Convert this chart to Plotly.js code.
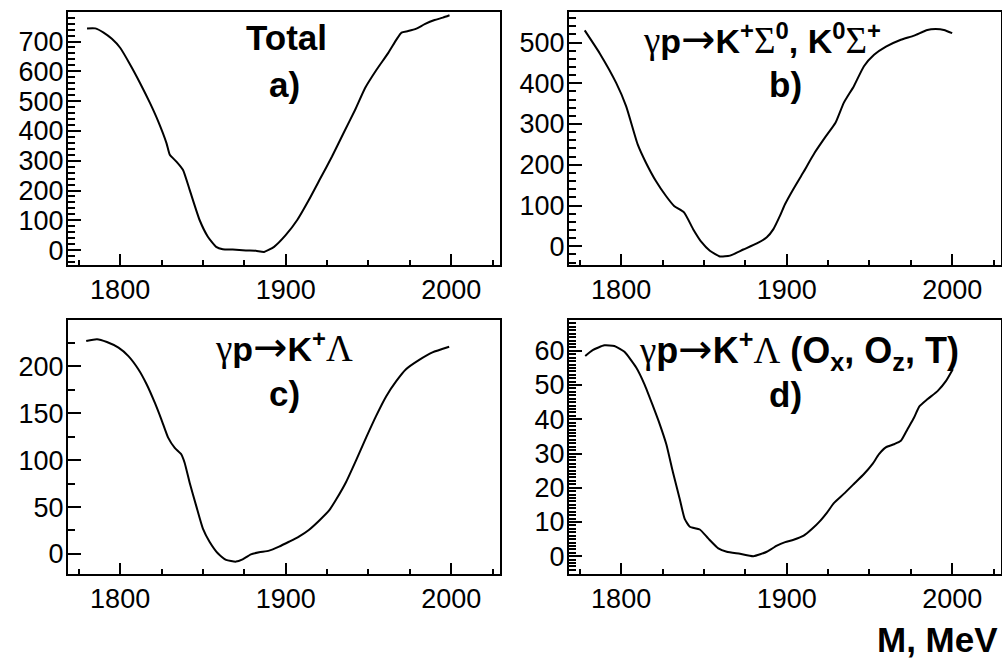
<!DOCTYPE html>
<html>
<head>
<meta charset="utf-8">
<script src="https://cdn.plot.ly/plotly-3.0.1.min.js"></script>
<style>
html,body{margin:0;padding:0;background:#fff;}
#chart{width:1002px;height:659px;}
</style>
</head>
<body>
<div id="chart"></div>
<script>
// ---- Data (M in MeV) ----
const massA = [1780,1785,1790,1795,1800,1806,1812,1818,1823,1828,1830,1834,1838,1842,1848,1853,1858,1862,1868,1876,1882,1887,1893,1900,1907,1914,1921,1928,1935,1942,1948,1955,1962,1967,1970,1974,1979,1984,1990,1995,1999];
const totalA = [744,744,730,709,679,623,561,494,432,359,320,297,269,202,101,45,11,3,2,-1,-2,-6,11,50,101,168,241,314,393,471,544,606,662,707,730,735,743,758,772,780,788];

const massB = [1778,1787,1797,1803,1810,1815,1821,1827,1832,1838,1843.5,1848.6,1853.6,1859.7,1865.8,1873.8,1882,1888,1892,1896,1899,1904,1910,1917,1923,1929.5,1934.5,1940.6,1946.7,1952.8,1960,1969,1977,1985,1990,1995,2000];
const sigmaB = [530,474,401,344,250,205,160,124,99,83,42,10,-11,-25,-23,-8,7,22,42,75,103,140,181,230,266,303,352,393,442,470,490,507,517,531,533,531,523];

const massC = [1779.5,1786,1792,1799,1805,1811,1816,1821,1825,1829,1833,1837,1839,1842,1846,1850,1854,1859,1864,1870,1874,1879,1884,1890,1896,1902,1908,1914,1920.5,1926.5,1930.5,1936.6,1942.6,1948.6,1954.6,1960.7,1966.7,1972.7,1980.7,1988.7,1998.8];
const lambdaC = [227,229,226,220,211,197,181,161,143,124,113,106,97,76,51,27,13,0.7,-6.4,-8.2,-5.7,-0.4,1.8,3.5,7.8,13,18.5,25.6,36,47,58,77,100,124,147,168,184,197,207,215,221];

const massD = [1778.3,1782.8,1789.9,1795.9,1802,1809.1,1814.1,1819.2,1823.3,1827.3,1831.3,1835.4,1838.4,1841.5,1847.5,1852.6,1858.7,1863.8,1871.8,1879.9,1888,1894.1,1899.1,1904.2,1910.3,1915.4,1920.4,1924.5,1928.5,1934.5,1940.6,1946.7,1951.8,1955.8,1959.9,1964.9,1969,1973,1977,1980.1,1985.2,1991.3,1996.3,2000.4];
const polD = [58.5,60.2,61.6,61.4,59.7,55.1,50.2,43.9,38.6,32.7,24.5,16.7,10.9,8.6,7.8,5.2,2.3,1.3,0.7,0,1.3,3.1,4.1,4.8,6.0,8.0,10.4,12.8,15.5,18.2,21.1,24.0,26.9,29.8,31.8,32.7,33.7,37.1,40.5,43.7,45.9,48.3,51.2,54.6];

// tick steps (major / minor)
const xTickStep = [100, 25];
const yTickA = [100, 20];
const yTickB = [100, 20];
const yTickC = [50, 25];
const yTickD = [10, 1];

const greek = s => '<span style="font-family:Liberation Serif;font-weight:normal;font-size:37px">' + s + '</span>';
const arrow = '<span style="font-family:DejaVu Sans;font-weight:normal;font-size:41px">→</span>';
const panelTitles = [
  '<b>Total</b>',
  greek('γ') + '<b>p</b>' + arrow + '<b>K<sup>+</sup></b>' + greek('Σ') + '<b><sup>0</sup>, K<sup>0</sup></b>' + greek('Σ') + '<b><sup>+</sup></b>',
  greek('γ') + '<b>p</b>' + arrow + '<b>K<sup>+</sup></b>' + greek('Λ'),
  greek('γ') + '<b>p</b>' + arrow + '<b>K<sup>+</sup></b>' + greek('Λ') + '<b> (O<sub>x</sub>, O<sub>z</sub>, T)</b>'
];
const panelLetters = ['<b>a)</b>', '<b>b)</b>', '<b>c)</b>', '<b>d)</b>'];

// ---- Layout geometry ----
const W = 1002, H = 659;
const fx = px => px / W;
const fy = py => 1 - py / H;

const tickFont = {family: 'Liberation Sans, Arial, sans-serif', size: 27, color: '#000'};

function xAxis(domain, anchor) {
  return {
    domain: domain, anchor: anchor, range: [1768.5, 2029.5],
    showline: true, linewidth: 2, linecolor: '#000', mirror: true,
    showgrid: false, zeroline: false,
    ticks: 'inside', ticklen: 11, tickwidth: 2, tickcolor: '#000',
    tick0: 1800, dtick: xTickStep[0],
    minor: {ticks: 'inside', ticklen: 5, tickwidth: 2, tickcolor: '#000', tick0: 1800, dtick: xTickStep[1], showgrid: false},
    tickfont: tickFont
  };
}
function yAxis(domain, anchor, range, steps) {
  return {
    domain: domain, anchor: anchor, range: range,
    showline: true, linewidth: 2, linecolor: '#000', mirror: true,
    showgrid: false, zeroline: false,
    ticks: 'inside', ticklen: 13, tickwidth: 2, tickcolor: '#000',
    tick0: 0, dtick: steps[0], ticklabelstandoff: -3,
    minor: {ticks: 'inside', ticklen: 6.5, tickwidth: 2, tickcolor: '#000', tick0: 0, dtick: steps[1], showgrid: false},
    tickfont: tickFont
  };
}

const lineStyle = {color: '#000', width: 2, shape: 'spline', smoothing: 0.5};
const traces = [
  {x: massA, y: totalA, xaxis: 'x', yaxis: 'y', mode: 'lines', line: lineStyle},
  {x: massB, y: sigmaB, xaxis: 'x2', yaxis: 'y2', mode: 'lines', line: lineStyle},
  {x: massC, y: lambdaC, xaxis: 'x3', yaxis: 'y3', mode: 'lines', line: lineStyle},
  {x: massD, y: polD, xaxis: 'x4', yaxis: 'y4', mode: 'lines', line: lineStyle}
];

const dxL = [fx(68), fx(500)], dxR = [fx(569), fx(1001)];
const dyT = [fy(265), fy(12)], dyB = [fy(574), fy(320)];

const ann = (text, px, py, size, anchor) => ({
  text: text, xref: 'paper', yref: 'paper', x: fx(px), y: fy(py),
  xanchor: anchor || 'center', yanchor: 'middle', showarrow: false,
  font: {family: 'Liberation Sans, Arial, sans-serif', size: size, color: '#000'}
});

const layout = {
  width: W, height: H,
  margin: {l: 0, r: 0, t: 0, b: 0},
  paper_bgcolor: '#fff', plot_bgcolor: '#fff',
  showlegend: false,
  xaxis: xAxis(dxL, 'y'), yaxis: yAxis(dyT, 'x', [-50, 799], yTickA),
  xaxis2: xAxis(dxR, 'y2'), yaxis2: yAxis(dyT, 'x2', [-46, 575], yTickB),
  xaxis3: xAxis(dxL, 'y3'), yaxis3: yAxis(dyB, 'x3', [-21.4, 249.5], yTickC),
  xaxis4: xAxis(dxR, 'y4'), yaxis4: yAxis(dyB, 'x4', [-5.2, 69], yTickD),
  annotations: [
    ann(panelTitles[0], 286, 37, 35),
    ann(panelLetters[0], 284, 85, 35),
    ann(panelTitles[1], 762, 39, 34),
    ann(panelLetters[1], 785, 85, 35),
    ann(panelTitles[2], 283.5, 347, 34),
    ann(panelLetters[2], 284, 393, 35),
    ann(panelTitles[3], 799, 350, 36),
    ann(panelLetters[3], 785, 394, 35),
    ann('<b>M, MeV</b>', 1000, 639, 35, 'right')
  ]
};

Plotly.newPlot('chart', traces, layout, {staticPlot: true, displayModeBar: false});
</script>
</body>
</html>
